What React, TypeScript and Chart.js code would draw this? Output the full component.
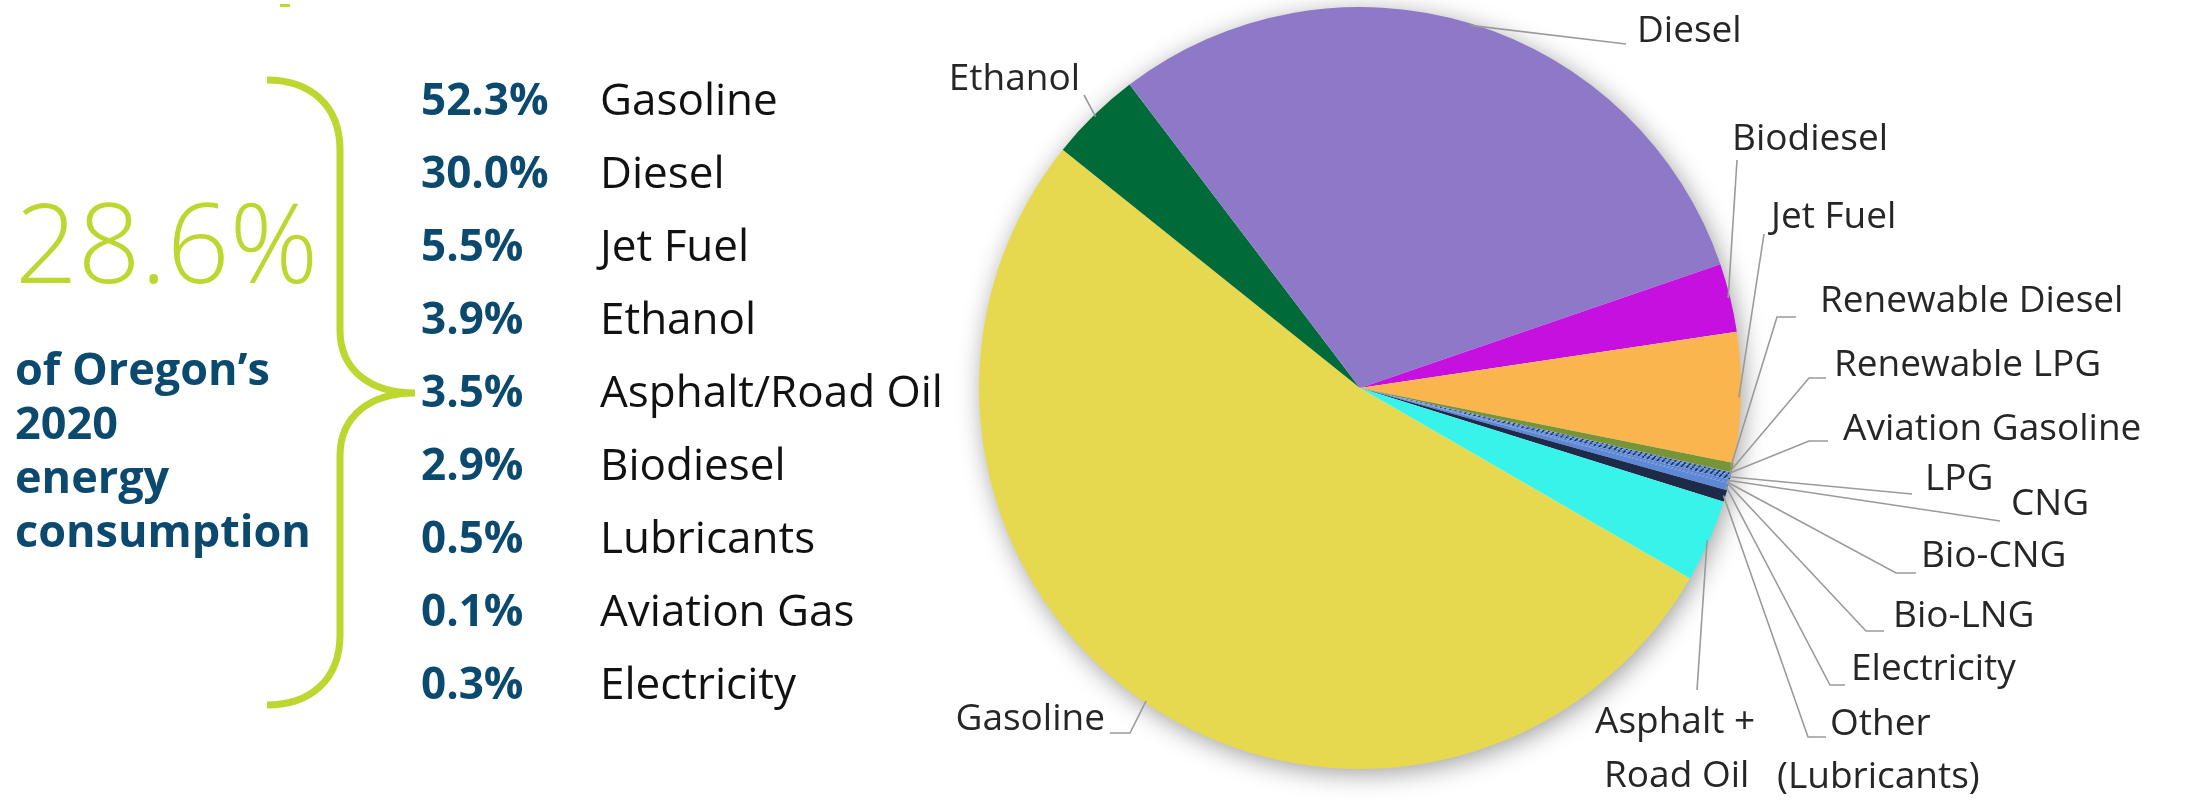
import React, { useEffect, useRef } from "react";
import { Chart, registerables } from "chart.js";

Chart.register(...registerables);

// ---------- data ----------
const fuels = [
  "Gasoline",
  "Ethanol",
  "Diesel",
  "Biodiesel",
  "Jet Fuel",
  "Renewable Diesel",
  "Renewable LPG",
  "Aviation Gasoline",
  "LPG",
  "CNG",
  "Bio-CNG",
  "Bio-LNG",
  "Electricity",
  "Other (Lubricants)",
  "Asphalt + Road Oil",
];
const shares = [52.3, 3.9, 30.0, 2.9, 5.5, 0.4, 0.01, 0.1, 0.2, 0.1, 0.05, 0.01, 0.3, 0.5, 3.5];
const sliceColors = [
  "#E6D94F",
  "#006A38",
  "#8E78C8",
  "#C510E0",
  "#FBB54E",
  "#779536",
  "#4472C4",
  "hatch",
  "hatch",
  "#5B86D8",
  "#4A76C8",
  "#2F4F8F",
  "#5D88D6",
  "#1D2B49",
  "#38F3EA",
];
const pieLabelLines = [
  ["Gasoline"],
  ["Ethanol"],
  ["Diesel"],
  ["Biodiesel"],
  ["Jet Fuel"],
  ["Renewable Diesel"],
  ["Renewable LPG"],
  ["Aviation Gasoline"],
  ["LPG"],
  ["CNG"],
  ["Bio-CNG"],
  ["Bio-LNG"],
  ["Electricity"],
  ["Other", "(Lubricants)"],
  ["Asphalt +", "Road Oil"],
];

const headline = "28.6%";
const caption = ["of Oregon\u2019s", "2020", "energy", "consumption"];
const listPercents = ["52.3%", "30.0%", "5.5%", "3.9%", "3.5%", "2.9%", "0.5%", "0.1%", "0.3%"];
const listNames = [
  "Gasoline",
  "Diesel",
  "Jet Fuel",
  "Ethanol",
  "Asphalt/Road Oil",
  "Biodiesel",
  "Lubricants",
  "Aviation Gas",
  "Electricity",
];

// ---------- layout (offsets from the pie centre at 1362,390) ----------
type LabelLayout = { align: "left" | "right"; pos: number[][]; path: number[][] };
const labelLayout: LabelLayout[] = [
  { align: "right", pos: [[-257, 340]], path: [[-232, 343], [-252, 343]] },
  { align: "right", pos: [[-282, -300]], path: [[-278, -295]] },
  { align: "left", pos: [[275, -348]], path: [[264, -346]] },
  { align: "left", pos: [[370, -240]], path: [[375, -230]] },
  { align: "left", pos: [[409, -162]], path: [[402, -156]] },
  { align: "left", pos: [[458, -78]], path: [[415, -73], [434, -73]] },
  { align: "left", pos: [[472, -14]], path: [[447, -12], [464, -12]] },
  { align: "left", pos: [[481, 50]], path: [[447, 51], [466, 51]] },
  { align: "left", pos: [[563, 100]], path: [[550, 104]] },
  { align: "left", pos: [[649, 125]], path: [[638, 131]] },
  { align: "left", pos: [[559, 177]], path: [[534, 183], [554, 183]] },
  { align: "left", pos: [[531, 237]], path: [[504, 241], [522, 241]] },
  { align: "left", pos: [[489, 290]], path: [[468, 295], [483, 295]] },
  { align: "left", pos: [[468, 345], [415, 398]], path: [[446, 347], [464, 347]] },
  { align: "left", pos: [[233, 343], [242, 397]], path: [[335, 300]] },
];

const LIME = "#BED630";
const NAVY_TEXT = "#0B4A6E";
const FONT = "'Open Sans', 'DejaVu Sans', sans-serif";
const CX = 1362;
const CY = 390;

function makeHatch(): CanvasPattern | string {
  const c = document.createElement("canvas");
  c.width = 6;
  c.height = 6;
  const g = c.getContext("2d");
  if (!g) return "#5B86D8";
  g.fillStyle = "#6390DC";
  g.fillRect(0, 0, 6, 6);
  g.strokeStyle = "#1D2B49";
  g.lineWidth = 1.5;
  g.beginPath();
  g.moveTo(0, 6);
  g.lineTo(6, 0);
  g.stroke();
  const p = g.createPattern(c, "repeat");
  return p || "#5B86D8";
}

const pieDecor = {
  id: "pieDecor",
  beforeDatasetsDraw(chart: any) {
    const arc = chart.getDatasetMeta(0).data[0];
    if (!arc) return;
    const { x, y, outerRadius } = arc.getProps(["x", "y", "outerRadius"], true);
    const ctx = chart.ctx;
    ctx.save();
    ctx.shadowColor = "rgba(0,0,0,0.4)";
    ctx.shadowBlur = 26;
    ctx.shadowOffsetX = 3;
    ctx.shadowOffsetY = 5;
    ctx.beginPath();
    ctx.arc(x, y, outerRadius - 1, 0, Math.PI * 2);
    ctx.fillStyle = "#ffffff";
    ctx.fill();
    ctx.restore();
  },
  afterDatasetsDraw(chart: any) {
    const ctx = chart.ctx;
    const arcs = chart.getDatasetMeta(0).data;
    ctx.save();
    ctx.font = `37px ${FONT}`;
    ctx.textBaseline = "alphabetic";
    arcs.forEach((arc: any, i: number) => {
      const lay = labelLayout[i];
      if (!lay) return;
      const { x, y, startAngle, endAngle, outerRadius } = arc.getProps(
        ["x", "y", "startAngle", "endAngle", "outerRadius"],
        true
      );
      // label layout is relative to the nominal centre
      const ox = x - (x - CX);
      const oy = y - (y - CY);
      const mid = (startAngle + endAngle) / 2;
      const ax = x + Math.cos(mid) * (outerRadius - 2);
      const ay = y + Math.sin(mid) * (outerRadius - 2);
      ctx.strokeStyle = "#9a9a9a";
      ctx.lineWidth = 1.6;
      ctx.beginPath();
      ctx.moveTo(ax, ay);
      lay.path.forEach((p) => ctx.lineTo(ox + p[0], oy + p[1]));
      ctx.stroke();
      ctx.fillStyle = "#262626";
      ctx.textAlign = lay.align;
      pieLabelLines[i].forEach((t, k) => {
        const p = lay.pos[k];
        ctx.fillText(t, ox + p[0], oy + p[1]);
      });
    });
    ctx.restore();
  },
};

function PieChart() {
  const ref = useRef<HTMLCanvasElement | null>(null);
  useEffect(() => {
    if (!ref.current) return;
    const hatch = makeHatch();
    const colors = sliceColors.map((c) => (c === "hatch" ? hatch : c));
    const chart = new Chart(ref.current, {
      type: "pie",
      data: {
        labels: fuels,
        datasets: [
          {
            data: shares,
            backgroundColor: colors as any,
            borderWidth: 0,
            hoverOffset: 0,
          },
        ],
      },
      options: {
        animation: false,
        responsive: false,
        maintainAspectRatio: false,
        rotation: 120,
        layout: { padding: { left: 979, right: 449, top: 7, bottom: 33 } },
        plugins: {
          legend: { display: false },
          tooltip: { enabled: false },
        },
      },
      plugins: [pieDecor],
    });
    return () => chart.destroy();
  }, []);
  return (
    <canvas
      ref={ref}
      width={2190}
      height={802}
      style={{ position: "absolute", left: 0, top: 0, width: 2190, height: 802 }}
    />
  );
}

function LeftPanel() {
  const rowBase = 115;
  const rowStep = 73;
  return (
    <svg
      width={2190}
      height={802}
      style={{ position: "absolute", left: 0, top: 0, pointerEvents: "none" }}
    >
      <rect x={280} y={4} width={10} height={3} fill={LIME} />
      <path
        d="M267,80 C310,80 340,105 340,150 L340,330 C340,370 370,393 415,393 C370,393 340,416 340,456 L340,635 C340,680 310,705 267,705"
        fill="none"
        stroke={LIME}
        strokeWidth={7}
      />
      <text x={15} y={283} fill={LIME} style={{ fontFamily: FONT, fontSize: 110, fontWeight: 350 }}>
        {headline}
      </text>
      {caption.map((t, i) => (
        <text
          key={t}
          x={15}
          y={385 + i * 54}
          fill={NAVY_TEXT}
          style={{ fontFamily: FONT, fontSize: 45, fontWeight: 700 }}
        >
          {t}
        </text>
      ))}
      {listPercents.map((p, i) => (
        <text
          key={"p" + i}
          x={421}
          y={rowBase + i * rowStep}
          fill={NAVY_TEXT}
          style={{ fontFamily: FONT, fontSize: 44, fontWeight: 700 }}
        >
          {p}
        </text>
      ))}
      {listNames.map((n, i) => (
        <text
          key={"n" + i}
          x={600}
          y={rowBase + i * rowStep}
          fill="#111111"
          style={{ fontFamily: FONT, fontSize: 44, fontWeight: 400 }}
        >
          {n}
        </text>
      ))}
    </svg>
  );
}

export default function App() {
  return (
    <div style={{ position: "absolute", left: 0, top: 0, width: 2190, height: 802, background: "#fff" }}>
      <PieChart />
      <LeftPanel />
    </div>
  );
}
